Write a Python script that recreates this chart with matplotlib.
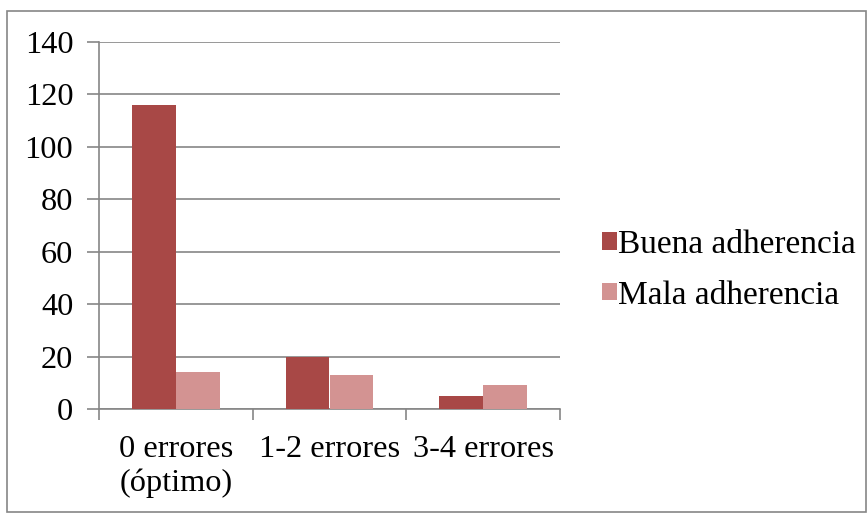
import numpy as np
import matplotlib
matplotlib.use('Agg')
from matplotlib import pyplot as plt
from matplotlib.patches import Rectangle

categorias = ['0 errores\n(óptimo)', '1-2 errores', '3-4 errores']
buena = [116, 20, 5]
mala = [14, 13, 9]
yticks = [0, 20, 40, 60, 80, 100, 120, 140]

plt.rcParams['font.family'] = ['Liberation Serif', 'DejaVu Serif']
plt.rcParams['font.size'] = 23.3

fig = plt.figure(figsize=(8.68, 5.13), dpi=100)
# outer chart border
fig.patches.append(Rectangle((7/868, 1/513), 859/868, 501/513,
                             transform=fig.transFigure, fill=False,
                             edgecolor='#868686', linewidth=1.2))

ax = fig.add_axes([99/868, 1 - 409/513, (560-99)/868, (409-42)/513])

x = np.arange(len(categorias))
w = 1/3.5
ax.bar(x - w/2, buena, w, color='#A84846', label='Buena adherencia', zorder=3)
ax.bar(x + w/2, mala, w, color='#D39392', label='Mala adherencia', zorder=3)

ax.set_xlim(-0.5, 2.5)
ax.set_ylim(0, 140)
ax.set_yticks(yticks)
ax.yaxis.grid(True, color='#868686', linewidth=1.2, zorder=0)
ax.set_xticks([-0.5, 0.5, 1.5, 2.5])
ax.set_xticklabels([])
ax.set_xticks(x, minor=True)
ax.set_xticklabels(categorias, minor=True, linespacing=1.2)
ax.tick_params(axis='x', which='minor', length=0, pad=19)
ax.tick_params(axis='x', which='major', length=8, width=1.2, color='#868686', direction='out')
ax.tick_params(axis='y', length=9, width=1.2, color='#868686', pad=9.5)
for s in ['top', 'right']:
    ax.spines[s].set_visible(False)
for s in ['left', 'bottom']:
    ax.spines[s].set_color('#868686')
    ax.spines[s].set_linewidth(1.2)

h, l = ax.get_legend_handles_labels()
fig.legend(h, l, loc='center left', bbox_to_anchor=(589/868, 1 - 270/513),
           frameon=False, handlelength=0.43, handleheight=0.43,
           handletextpad=0.05, labelspacing=0.6, borderaxespad=0,
           fontsize=24)

fig.savefig('out.png', dpi=100)
